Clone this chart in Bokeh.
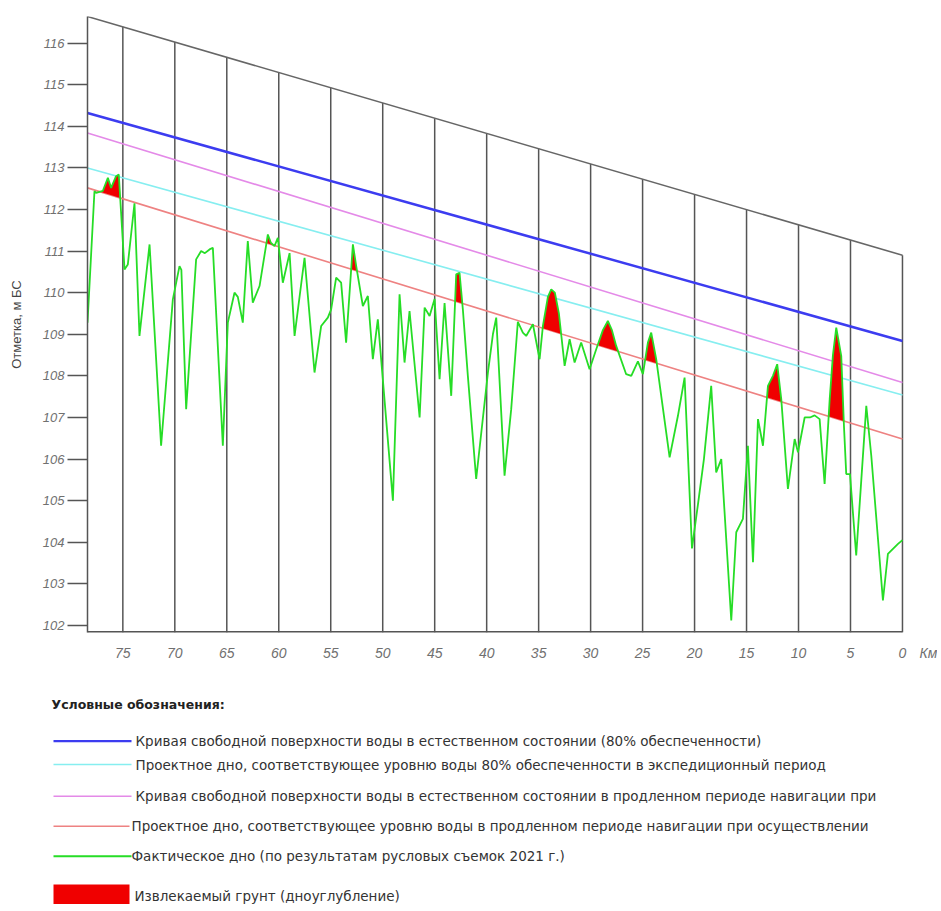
import numpy as np
from bokeh.plotting import figure
from bokeh.models import Range1d, FixedTicker
from bokeh.core.properties import value
from bokeh.embed import file_html
from bokeh.resources import INLINE

# ---------------- data ----------------
# actual river bed (survey 2021): distance, km  -> elevation, m BS
KM = [78.4, 77.73, 77.57, 76.92, 76.44, 76.13, 75.65, 75.39, 74.84, 74.52,
      73.88, 73.40, 72.43, 71.32, 70.19, 69.55, 69.37, 68.91, 67.95, 67.47,
      67.11, 66.66, 66.34, 65.38, 64.90, 64.26, 63.94, 63.46, 62.98, 62.50,
      61.85, 61.05, 60.76, 60.41, 60.09, 59.61, 58.96, 58.48, 57.52, 56.56,
      55.92, 55.28, 54.96, 54.48, 54.00, 53.52, 52.87, 52.55, 51.91, 51.43,
      50.95, 50.47, 49.02, 48.38, 47.90, 47.42, 46.45, 45.97, 45.49, 45.01,
      44.53, 44.05, 43.41, 42.93, 42.61, 42.29, 41.81, 41.01, 39.88, 39.40,
      39.08, 38.28, 37.64, 37.00, 36.52, 36.20, 35.55, 34.91, 34.59, 34.11,
      33.79, 33.44, 33.05, 32.50, 32.02, 31.54, 30.91, 30.10, 29.46, 28.82,
      28.34, 27.95, 27.54, 26.58, 26.09, 25.45, 24.97, 24.49, 24.17, 23.69,
      22.40, 21.60, 20.96, 20.25, 19.68, 19.10, 18.40, 17.92, 17.43, 16.47,
      15.99, 15.35, 14.87, 14.38, 13.90, 13.42, 12.94, 12.46, 12.05, 11.66,
      11.02, 10.37, 10.05, 9.41, 8.90, 8.45, 7.97, 7.49, 7.00, 6.69,
      6.37, 5.89, 5.63, 5.41, 5.05, 4.45, 3.48, 3.00, 1.88, 1.40,
      0.43, 0.0]
BED = [109.28, 112.44, 112.40, 112.45, 112.76, 112.52, 112.80, 112.84, 110.56, 110.68,
       112.15, 108.96, 111.16, 106.32, 109.84, 110.64, 110.55, 107.20, 110.80, 111.00,
       110.95, 111.04, 111.08, 106.32, 109.28, 110.00, 109.90, 109.28, 111.24, 109.76,
       110.16, 111.40, 111.20, 111.12, 111.32, 110.24, 110.95, 108.96, 110.84, 108.08,
       109.20, 109.40, 109.60, 110.36, 110.24, 108.80, 111.16, 110.64, 109.68, 109.92,
       108.40, 109.36, 105.00, 109.96, 108.32, 109.56, 107.00, 109.64, 109.44, 109.85,
       107.92, 109.75, 107.52, 110.44, 110.48, 109.60, 108.00, 105.52, 108.08, 109.00,
       109.40, 105.60, 107.20, 109.30, 109.04, 108.96, 109.24, 108.40, 109.20, 109.90,
       110.08, 110.00, 109.50, 108.24, 108.88, 108.32, 108.80, 108.16, 108.64, 109.10,
       109.32, 109.10, 108.72, 108.04, 108.00, 108.35, 108.04, 108.80, 109.04, 108.40,
       106.04, 107.04, 107.96, 103.85, 104.90, 106.00, 107.76, 105.68, 106.00, 102.12,
       104.24, 104.56, 106.32, 103.52, 106.96, 106.32, 107.76, 108.00, 108.28, 107.44,
       105.28, 106.48, 106.16, 107.00, 107.00, 107.05, 106.96, 105.40, 107.44, 108.50,
       109.16, 108.48, 106.80, 105.64, 105.64, 103.68, 107.28, 106.08, 102.60, 103.72,
       103.96, 104.05]

# straight design lines, given at the two ends of the reach (km 78.4 and km 0)
LINE_KM = [78.4, 0.0]
WATER_80 = [114.32, 108.84]        # blue
WATER_EXT = [113.84, 107.84]       # violet
BOTTOM_80 = [113.00, 107.54]       # cyan
BOTTOM_EXT = [112.52, 106.48]      # red
FRAME_TOP = [116.64, 110.90]       # upper border of the profile grid

Y_MIN = 101.83
X_RIGHT = -3.37                    # plot range continues past km 0 to hold the unit label
X_TICKS = [75, 70, 65, 60, 55, 50, 45, 40, 35, 30, 25, 20, 15, 10, 5, 0]
UNIT_POS = -2.5
Y_TICKS = list(range(102, 117))

# dredging sections (km from, km to)
DREDGE_ZONES = [(77.9, 75.3), (61.3, 60.6), (53.3, 52.3), (43.3, 42.2),
                (34.8, 32.8), (29.2, 27.3), (24.7, 23.4), (13.0, 11.4), (7.2, 5.4)]

Y_LABEL = "Отметка, м БС"
X_UNIT = "Км"
LEGEND_TITLE = "Условные обозначения:"
LEGEND_LABELS = [
    "Кривая свободной поверхности воды в естественном состоянии (80% обеспеченности)",
    "Проектное дно, соответствующее уровню воды 80% обеспеченности в экспедиционный период",
    "Кривая свободной поверхности воды в естественном состоянии в продленном периоде навигации при",
    "Проектное дно, соответствующее уровню воды в продленном периоде навигации при осуществлении",
    "Фактическое дно (по результатам русловых съемок 2021 г.)",
]
FILL_LABEL = "Извлекаемый грунт (дноуглубление)"

C_BLUE = "#3c3cf0"
C_VIOLET = "#e48ae8"
C_CYAN = "#86eef0"
C_RED = "#ee8282"
C_GREEN = "#26dd26"
C_FILL = "#f00000"
C_GRID = "#555555"

# ---------------- profile figure ----------------
p = figure(width=937, height=683, x_range=Range1d(LINE_KM[0], X_RIGHT),
           y_range=Range1d(Y_MIN, FRAME_TOP[0]),
           min_border_left=87, min_border_right=0, min_border_top=16, min_border_bottom=51,
           toolbar_location=None, output_backend="svg")
p.xgrid.visible = False
p.ygrid.visible = False
p.outline_line_color = None
p.background_fill_color = "white"
p.border_fill_color = "white"

ya = p.yaxis[0]
ya.ticker = FixedTicker(ticks=Y_TICKS)
ya.major_tick_out = 20
ya.major_tick_in = 0
ya.minor_tick_out = 0
ya.minor_tick_in = 0
ya.major_tick_line_color = "#555555"
ya.major_tick_line_width = 1.5
ya.axis_line_color = "#555555"
ya.axis_line_width = 1.5
ya.major_label_standoff = 3
ya.major_label_text_font = "Liberation Sans"
ya.major_label_text_font_style = "italic"
ya.major_label_text_font_size = "13px"
ya.major_label_text_color = "#707070"
ya.axis_label = Y_LABEL
ya.axis_label_text_font = "Liberation Sans"
ya.axis_label_text_font_style = "normal"
ya.axis_label_text_font_size = "13px"
ya.axis_label_text_color = "#444444"
ya.axis_label_standoff = 16

xa = p.xaxis[0]
xa.ticker = FixedTicker(ticks=X_TICKS + [UNIT_POS])
xa.major_label_overrides = {UNIT_POS: X_UNIT}
xa.major_tick_out = 0
xa.major_tick_in = 0
xa.minor_tick_out = 0
xa.minor_tick_in = 0
xa.axis_line_color = None
xa.major_label_standoff = 12
xa.major_label_text_font = "Liberation Sans"
xa.major_label_text_font_style = "italic"
xa.major_label_text_font_size = "14px"
xa.major_label_text_color = "#707070"

km_arr = np.array(KM)
bed_arr = np.array(BED)


def on_line(vals, x):
    return np.interp(x, [LINE_KM[1], LINE_KM[0]], [vals[1], vals[0]])


# base line of the profile (km 78.4 .. 0)
p.line(LINE_KM, [Y_MIN, Y_MIN], line_color="#555555", line_width=3)

# vertical km lines up to the sloping upper border
tx = np.array(X_TICKS, dtype=float)
p.segment(x0=tx, y0=Y_MIN, x1=tx, y1=on_line(FRAME_TOP, tx),
          line_color=C_GRID, line_width=1.5)
p.line(LINE_KM, FRAME_TOP, line_color="#666666", line_width=1.5)

# design lines
p.line(LINE_KM, WATER_80, line_color=C_BLUE, line_width=2.5)
p.line(LINE_KM, WATER_EXT, line_color=C_VIOLET, line_width=1.6)
p.line(LINE_KM, BOTTOM_80, line_color=C_CYAN, line_width=1.6)
p.line(LINE_KM, BOTTOM_EXT, line_color=C_RED, line_width=1.6)

# dredged soil: bed above the design bottom inside the dredging sections
inc_km = km_arr[::-1]
inc_bed = bed_arr[::-1]
for z0, z1 in DREDGE_ZONES:
    lo, hi = min(z0, z1), max(z0, z1)
    xs = np.linspace(lo, hi, 200)
    inside = inc_km[(inc_km > lo) & (inc_km < hi)]
    xs = np.unique(np.concatenate([xs, inside]))
    g = np.interp(xs, inc_km, inc_bed)
    r = on_line(BOTTOM_EXT, xs)
    p.varea(x=xs, y1=r, y2=np.maximum(g, r), fill_color=C_FILL)

# actual bed
p.line(KM, BED, line_color=C_GREEN, line_width=1.8)

# ---------------- legend (separate root, pixel coordinates) ----------------
LH = 221
q = figure(width=937, height=LH, x_range=Range1d(0, 937), y_range=Range1d(LH, 0),
           x_axis_type=None, y_axis_type=None, min_border=0,
           toolbar_location=None, output_backend="svg")
q.xgrid.visible = False
q.ygrid.visible = False
q.outline_line_color = None

q.text(x=[51], y=[21], text=[LEGEND_TITLE], text_font=value("DejaVu Sans"),
       text_font_style="bold", text_font_size="12.5px", text_color="#222222",
       text_baseline="middle")

row_y = [57.7, 81.0, 112.7, 142.7, 172.7]
row_colors = [C_BLUE, C_CYAN, C_VIOLET, C_RED, C_GREEN]
row_widths = [2.2, 1.6, 1.6, 1.6, 2.0]
row_x1 = [131, 131, 131, 129, 131]
for yy, cc, ww, x1 in zip(row_y, row_colors, row_widths, row_x1):
    q.segment(x0=[53], y0=[yy], x1=[x1], y1=[yy], line_color=cc, line_width=ww)
q.text(x=[135, 135, 135, 131, 131], y=row_y, text=LEGEND_LABELS,
       text_font=value("DejaVu Sans"), text_font_size="13.5px", text_color="#333333",
       text_baseline="middle")

q.quad(left=[53], right=[129], top=[201], bottom=[LH], fill_color=C_FILL, line_color=None)
q.text(x=[134], y=[212], text=[FILL_LABEL], text_font=value("DejaVu Sans"),
       text_font_size="13.5px", text_color="#333333", text_baseline="middle")

open("out.html", "w").write(file_html([p, q], INLINE))
